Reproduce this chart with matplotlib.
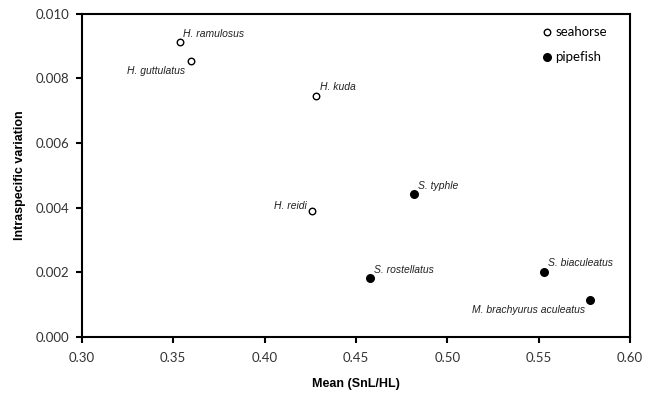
import matplotlib
matplotlib.use('Agg')
from matplotlib import pyplot as plt

# seahorse species
sh_names = ['H. ramulosus', 'H. guttulatus', 'H. kuda', 'H. reidi']
sh_x = [0.3537, 0.3597, 0.428, 0.426]
sh_y = [0.00913, 0.00855, 0.00746, 0.0039]

# pipefish species
pf_names = ['S. typhle', 'S. rostellatus', 'S. biaculeatus', 'M. brachyurus aculeatus']
pf_x = [0.482, 0.4577, 0.553, 0.578]
pf_y = [0.00443, 0.00183, 0.00201, 0.00115]

# label offsets in points and alignment
offsets = {
    'H. ramulosus': (2, 2, 'left', 'bottom'),
    'H. guttulatus': (-4, -4, 'right', 'top'),
    'H. kuda': (3, 3, 'left', 'bottom'),
    'H. reidi': (-4, 0, 'right', 'bottom'),
    'S. typhle': (3, 2, 'left', 'bottom'),
    'S. rostellatus': (3, 2, 'left', 'bottom'),
    'S. biaculeatus': (3, 3, 'left', 'bottom'),
    'M. brachyurus aculeatus': (-3, -4, 'right', 'top'),
}

fig = plt.figure(figsize=(6.5, 3.96), dpi=100)
ax = fig.add_axes([0.126, 0.149, 0.843, 0.816])

ax.scatter(sh_x, sh_y, s=22, facecolors='white', edgecolors='black', linewidths=1.0,
           label='seahorse', zorder=3)
ax.scatter(pf_x, pf_y, s=30, facecolors='black', edgecolors='black', linewidths=1.0,
           label='pipefish', zorder=3)

for names, xs, ys in [(sh_names, sh_x, sh_y), (pf_names, pf_x, pf_y)]:
    for n, x, y in zip(names, xs, ys):
        dx, dy, ha, va = offsets[n]
        ax.annotate(n, (x, y), xytext=(dx, dy), textcoords='offset points',
                    ha=ha, va=va, fontsize=7.5, style='italic',
                    family='Liberation Sans', color='#222222')

ax.set_xlim(0.30, 0.60)
ax.set_ylim(0.0, 0.010)
ax.set_xticks([0.30, 0.35, 0.40, 0.45, 0.50, 0.55, 0.60])
ax.set_yticks([0.000, 0.002, 0.004, 0.006, 0.008, 0.010])
ax.set_xticklabels(['0.30', '0.35', '0.40', '0.45', '0.50', '0.55', '0.60'])
ax.set_yticklabels(['0.000', '0.002', '0.004', '0.006', '0.008', '0.010'])
for lab in ax.get_xticklabels() + ax.get_yticklabels():
    lab.set_family('Lato')
    lab.set_fontsize(9.5)
    lab.set_color('#333333')
ax.tick_params(axis='both', direction='out', length=4, width=1.5, pad=5)
ax.tick_params(axis='x', pad=7)
for s in ax.spines.values():
    s.set_linewidth(1.5)

ax.set_xlabel('Mean (SnL/HL)', fontsize=9, fontweight='bold', family='Liberation Sans', labelpad=10)
ax.set_ylabel('Intraspecific variation', fontsize=9, fontweight='bold', family='Liberation Sans', labelpad=7)

ax.legend(loc='upper right', bbox_to_anchor=(0.98, 1.0), frameon=False,
          handletextpad=0.1, markerscale=1.0,
          prop={'family': 'Lato', 'size': 9.5}, borderaxespad=0.5, labelspacing=1.0,
          handlelength=1.0)

plt.savefig('out.png', dpi=100)
